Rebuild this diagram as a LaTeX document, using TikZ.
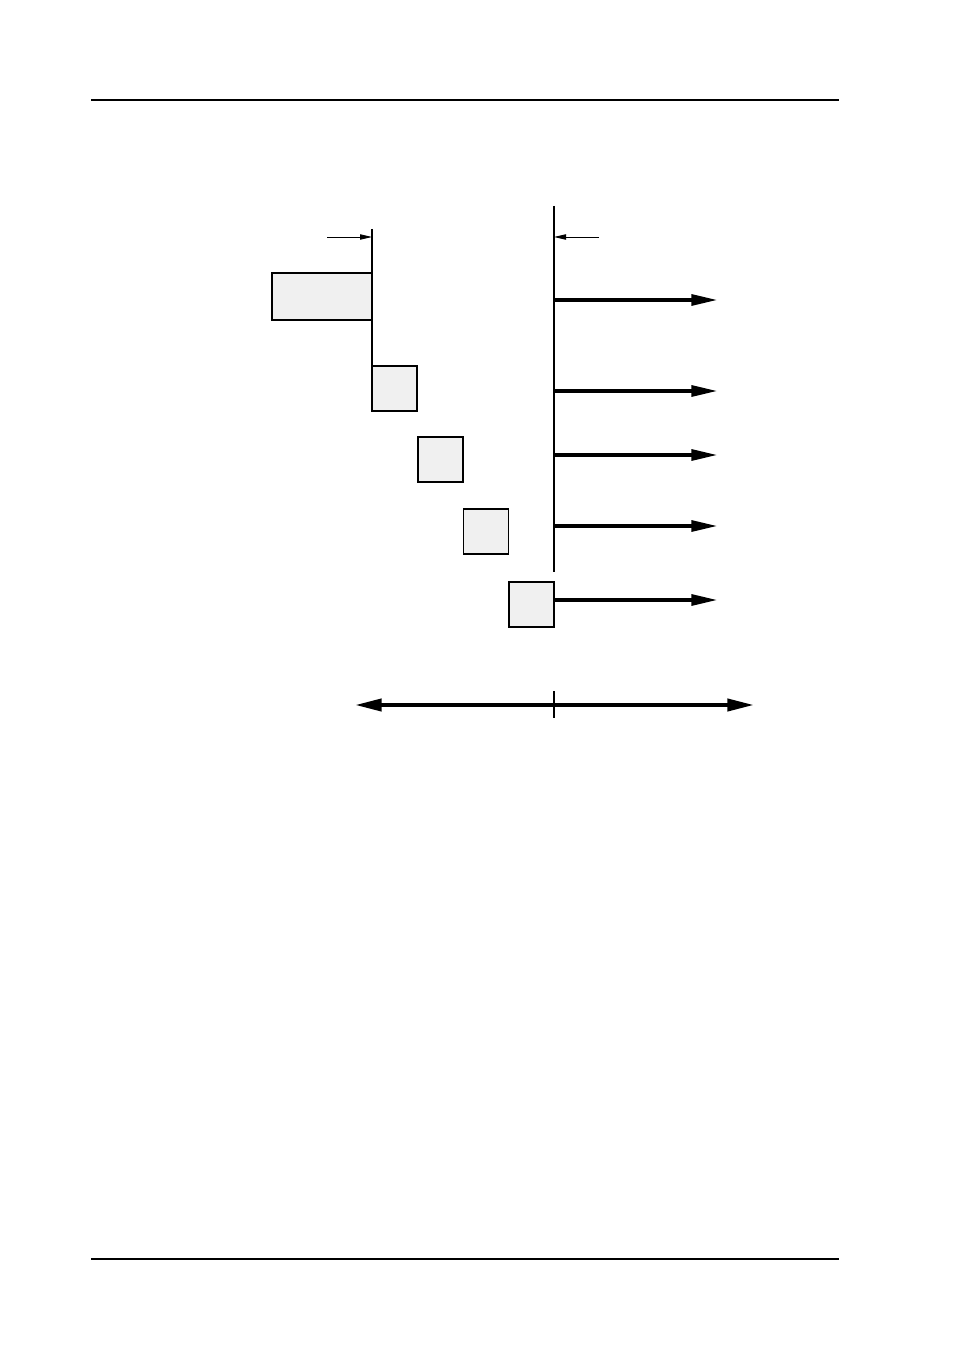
\documentclass[tikz,border=0pt]{standalone}
\usetikzlibrary{arrows.meta}

\begin{document}
\begin{tikzpicture}[x=0.75pt, y=-0.75pt,
  Block/.style={fill=black!6, draw, line width=1pt, inner sep=0pt, outer sep=0pt, minimum width=33.75pt, minimum height=33.75pt},
  Flow/.style={-{Triangle[length=20pt, width=8pt]}, line width=3pt},
  Marker/.style={-{Triangle[length=9pt, width=4pt]}, line width=0.7pt},
  Rule/.style={line width=0.8pt}]

\useasboundingbox (0,0) rectangle (954,1351);

% page rules
\draw [Rule] (91,100) -- (839,100);
\draw [Rule] (91,1259) -- (839,1259);

% stepped blocks
\node [Block, minimum width=75pt, minimum height=35.25pt] (blk1) at (322,296.5) {};
\foreach \x/\y/\name in {394.5/388.5/blk2, 440.5/459.5/blk3, 486/531.5/blk4, 531.5/604.5/blk5} {
  \node [Block] (\name) at (\x,\y) {};
}

% reference lines
\coordinate (ltop) at (372,229);
\coordinate (rtop) at (554,206);
\coordinate (rbot) at (554,572);
\draw [line width=0.8pt] (ltop) -- (blk2.north west);
\draw [line width=0.8pt] (rtop) -- (rbot);

% edge markers
\coordinate (lmark) at (327,237);
\coordinate (rmark) at (599,237);
\draw [Marker] (lmark) -- (372,237);
\draw [Marker] (rmark) -- (554,237);

% outgoing flows
\foreach \y in {300, 391, 455, 526} {
  \draw [Flow] (554,\y) -- (718,\y);
}
\coordinate (out5) at (718,600);
\draw [Flow] (blk5.east |- out5) -- (out5);

% axis
\coordinate (axl) at (355,705);
\coordinate (axr) at (754,705);
\draw [Flow, {Triangle[length=20pt, width=9pt]}-{Triangle[length=20pt, width=9pt]}] (axl) -- (axr);
\draw [line width=0.8pt] (554,691) -- (554,718);
\end{tikzpicture}
\end{document}
